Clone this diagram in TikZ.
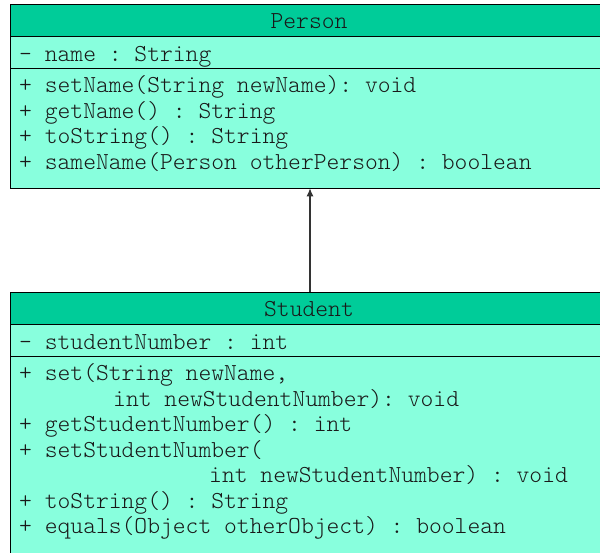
\documentclass[tikz,border=0pt]{standalone}
\usepackage{fontspec}
\setmonofont{Latin Modern Mono Light}
\usetikzlibrary{arrows.meta}
\definecolor{headgreen}{RGB}{0,204,153}
\definecolor{bodygreen}{RGB}{136,255,221}
\tikzset{
  compart/.style={draw=black, line width=1pt, anchor=north west, minimum width=600pt, inner sep=0pt, outer sep=0pt},
  headbox/.style={compart, fill=headgreen},
  bodybox/.style={compart, fill=bodygreen},
  txt/.style={anchor=base west, inner sep=0pt, font=\ttfamily\fontsize{24.4}{25.5}\selectfont, text=black!90},
  ttl/.style={txt, anchor=base},
  inherit/.style={draw=black!80, line width=1.2pt, -{Latex[length=8pt,width=7pt]}}
}
\begin{document}
\begin{tikzpicture}[x=1pt,y=-1pt]
\useasboundingbox (0,0) rectangle (600,552);
\fill[white] (0,0) rectangle (600,552);
\clip (0,0) rectangle (600,552);
% Person
\node[headbox, minimum height=32pt] (phead) at (10,4.3) {};
\node[bodybox, minimum height=32pt] (pattr) at (10,36.3) {};
\node[bodybox, minimum height=120pt] (pmeth) at (10,68.3) {};
\node[ttl] (ptitle) at (309,28) {Person};
\node[txt] (pa1) at (19,61) {- name : String};
\node[txt] (pm1) at (19,92.7) {+ setName(String newName): void};
\node[txt] (pm2) at (19,118.2) {+ getName() : String};
\node[txt] (pm3) at (19,143.7) {+ toString() : String};
\node[txt] (pm4) at (19,169.2) {+ sameName(Person otherPerson) : boolean};
% Student
\node[headbox, minimum height=32pt] (shead) at (10,292.3) {};
\node[bodybox, minimum height=32pt] (sattr) at (10,324.3) {};
\node[bodybox, minimum height=230pt] (smeth) at (10,356.3) {};
\node[ttl] (stitle) at (309,316) {Student};
\node[txt] (sa1) at (19,349.3) {- studentNumber : int};
\node[txt] (sm1) at (19,380.7) {+ set(String newName,};
\node[txt] (sm1b) at (113,406.2) {int newStudentNumber): void};
\node[txt] (sm2) at (19,431.7) {+ getStudentNumber() : int};
\node[txt] (sm3) at (19,457.2) {+ setStudentNumber(};
\node[txt] (sm3b) at (209,482.7) {int newStudentNumber) : void};
\node[txt] (sm4) at (19,508.2) {+ toString() : String};
\node[txt] (sm5) at (19,533.7) {+ equals(Object otherObject) : boolean};
% inheritance
\draw[inherit] (shead.north) -- (pmeth.south);
\end{tikzpicture}
\end{document}
